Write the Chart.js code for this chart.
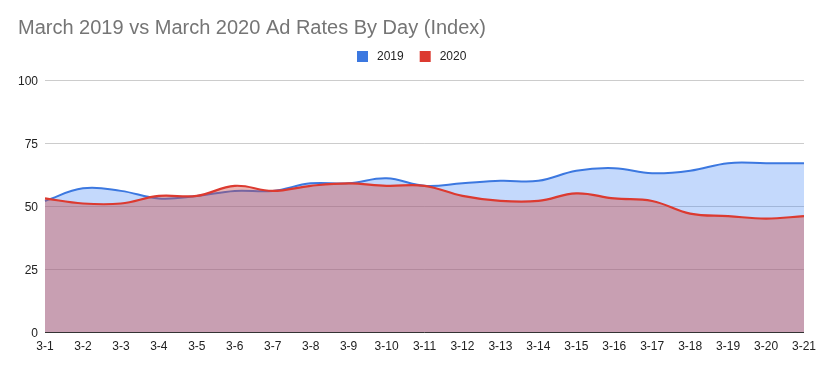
<!DOCTYPE html>
<html>
<head>
<meta charset="utf-8">
<script src="https://cdn.jsdelivr.net/npm/chart.js@4.4.1/dist/chart.umd.min.js"></script>
<style>
  html, body { margin: 0; padding: 0; background: #fff; }
  #wrap { width: 823px; height: 369px; position: relative; }
</style>
</head>
<body>
<div id="wrap"><canvas id="c" width="823" height="369"></canvas></div>
<script>
const categories = ["3-1","3-2","3-3","3-4","3-5","3-6","3-7","3-8","3-9","3-10","3-11","3-12","3-13","3-14","3-15","3-16","3-17","3-18","3-19","3-20","3-21"];
const series2019 = [52,57,56,53,54,56,56,59,59,61,58,59,60,60,64,65,63,64,67,67,67];
const series2020 = [53,51,51,54,54,58,56,58,59,58,58,54,52,52,55,53,52,47,46,45,46];
const yTicks = [0,25,50,75,100];

const FONT = "'Liberation Sans', Arial, sans-serif";

// Custom legend drawn in the space between title and plot
const legendPlugin = {
  id: 'customLegend',
  afterDraw(chart) {
    const ctx = chart.ctx;
    const ds = chart.data.datasets;
    ctx.save();
    ctx.font = "12px " + FONT;
    ctx.textBaseline = 'middle';
    ctx.textAlign = 'left';
    const box = 11, gapBoxText = 9, gapItems = 16;
    let total = 0;
    ds.forEach((d, i) => {
      total += box + gapBoxText + ctx.measureText(d.label).width;
      if (i < ds.length - 1) total += gapItems;
    });
    const cx = 411.5;
    let x = Math.round(cx - total / 2);
    const cy = 56.5;
    ds.forEach((d) => {
      ctx.fillStyle = d.borderColor;
      ctx.fillRect(x, Math.round(cy - box / 2), box, box);
      x += box + gapBoxText;
      ctx.fillStyle = '#222';
      ctx.fillText(d.label, x, cy);
      x += ctx.measureText(d.label).width + gapItems;
    });
    ctx.restore();
  }
};

new Chart(document.getElementById('c'), {
  type: 'line',
  data: {
    labels: categories,
    datasets: [
      {
        label: '2019',
        data: series2019,
        borderColor: '#3c78e0',
        backgroundColor: 'rgba(66,133,244,0.31)',
        fill: 'origin',
        borderWidth: 2,
        pointRadius: 0,
        tension: 0.4,
        order: 2
      },
      {
        label: '2020',
        data: series2020,
        borderColor: '#dc3a30',
        backgroundColor: 'rgba(205,73,67,0.4)',
        fill: 'origin',
        borderWidth: 2.2,
        pointRadius: 0,
        tension: 0.4,
        order: 1
      }
    ]
  },
  plugins: [legendPlugin],
  options: {
    responsive: false,
    animation: false,
    devicePixelRatio: 1,
    layout: { padding: { left: 18, right: 18, top: 0, bottom: 0 } },
    plugins: {
      title: {
        display: true,
        text: 'March 2019 vs March 2020 Ad Rates By Day (Index)',
        align: 'start',
        color: '#757575',
        font: { family: FONT, size: 20, weight: 'normal' },
        padding: { top: 16, bottom: 40 }
      },
      legend: { display: false },
      tooltip: { enabled: false }
    },
    scales: {
      x: {
        grid: { display: false, drawTicks: false },
        border: { display: true, color: '#333', width: 1 },
        ticks: {
          color: '#222',
          font: { family: FONT, size: 12 },
          padding: 7,
          maxRotation: 0,
          autoSkip: false
        },
        afterFit: (s) => { s.height = 37; }
      },
      y: {
        min: 0,
        max: 100,
        afterBuildTicks: (s) => { s.ticks = yTicks.map(v => ({ value: v })); },
        grid: { color: 'rgba(0,0,0,0.2)', drawTicks: false },
        border: { display: false },
        ticks: {
          color: '#222',
          font: { family: FONT, size: 12 },
          padding: 7,
          labelOffset: 2
        },
        afterFit: (s) => { s.width = 27; }
      }
    }
  }
});
</script>
</body>
</html>
